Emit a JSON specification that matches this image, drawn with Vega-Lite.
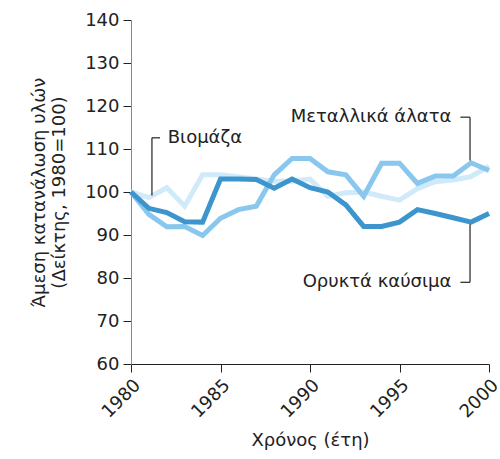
{
  "$schema": "https://vega.github.io/schema/vega-lite/v6.json",
  "width": 358,
  "height": 344,
  "autosize": {"type": "none"},
  "padding": {"left": 131, "top": 20, "right": 11, "bottom": 95},
  "background": "white",
  "config": {
    "view": {"stroke": null},
    "font": "DejaVu Sans",
    "axis": {"grid": false, "labelFont": "DejaVu Sans", "titleFont": "DejaVu Sans", "labelFontSize": 18, "titleFontSize": 18, "titleFontWeight": "normal", "labelColor": "#222", "titleColor": "#222", "tickColor": "#222", "tickSize": 8}
  },
  "datasets": {
    "series": [
      {"year": 1980, "s": "Biomass", "v": 100}, {"year": 1981, "s": "Biomass", "v": 98.7}, {"year": 1982, "s": "Biomass", "v": 101}, {"year": 1983, "s": "Biomass", "v": 96.7}, {"year": 1984, "s": "Biomass", "v": 104}, {"year": 1985, "s": "Biomass", "v": 104}, {"year": 1986, "s": "Biomass", "v": 103.5}, {"year": 1987, "s": "Biomass", "v": 103}, {"year": 1988, "s": "Biomass", "v": 102.5}, {"year": 1989, "s": "Biomass", "v": 102.5}, {"year": 1990, "s": "Biomass", "v": 103}, {"year": 1991, "s": "Biomass", "v": 99}, {"year": 1992, "s": "Biomass", "v": 99.8}, {"year": 1993, "s": "Biomass", "v": 100}, {"year": 1994, "s": "Biomass", "v": 99}, {"year": 1995, "s": "Biomass", "v": 98.1}, {"year": 1996, "s": "Biomass", "v": 100.8}, {"year": 1997, "s": "Biomass", "v": 102.4}, {"year": 1998, "s": "Biomass", "v": 102.8}, {"year": 1999, "s": "Biomass", "v": 103.6}, {"year": 2000, "s": "Biomass", "v": 106},
      {"year": 1980, "s": "Metals", "v": 100}, {"year": 1981, "s": "Metals", "v": 94.8}, {"year": 1982, "s": "Metals", "v": 91.9}, {"year": 1983, "s": "Metals", "v": 92}, {"year": 1984, "s": "Metals", "v": 89.9}, {"year": 1985, "s": "Metals", "v": 93.9}, {"year": 1986, "s": "Metals", "v": 95.9}, {"year": 1987, "s": "Metals", "v": 96.7}, {"year": 1988, "s": "Metals", "v": 104}, {"year": 1989, "s": "Metals", "v": 107.8}, {"year": 1990, "s": "Metals", "v": 107.8}, {"year": 1991, "s": "Metals", "v": 104.7}, {"year": 1992, "s": "Metals", "v": 104}, {"year": 1993, "s": "Metals", "v": 99}, {"year": 1994, "s": "Metals", "v": 106.7}, {"year": 1995, "s": "Metals", "v": 106.7}, {"year": 1996, "s": "Metals", "v": 102}, {"year": 1997, "s": "Metals", "v": 103.7}, {"year": 1998, "s": "Metals", "v": 103.7}, {"year": 1999, "s": "Metals", "v": 106.8}, {"year": 2000, "s": "Metals", "v": 105},
      {"year": 1980, "s": "Fossil", "v": 100}, {"year": 1981, "s": "Fossil", "v": 96.2}, {"year": 1982, "s": "Fossil", "v": 95.2}, {"year": 1983, "s": "Fossil", "v": 93.1}, {"year": 1984, "s": "Fossil", "v": 93}, {"year": 1985, "s": "Fossil", "v": 103}, {"year": 1986, "s": "Fossil", "v": 103}, {"year": 1987, "s": "Fossil", "v": 102.9}, {"year": 1988, "s": "Fossil", "v": 100.9}, {"year": 1989, "s": "Fossil", "v": 103}, {"year": 1990, "s": "Fossil", "v": 101}, {"year": 1991, "s": "Fossil", "v": 100}, {"year": 1992, "s": "Fossil", "v": 97}, {"year": 1993, "s": "Fossil", "v": 92}, {"year": 1994, "s": "Fossil", "v": 92}, {"year": 1995, "s": "Fossil", "v": 93}, {"year": 1996, "s": "Fossil", "v": 95.9}, {"year": 1997, "s": "Fossil", "v": 95}, {"year": 1998, "s": "Fossil", "v": 94}, {"year": 1999, "s": "Fossil", "v": 93}, {"year": 2000, "s": "Fossil", "v": 95}
    ],
    "leaders": [
      {"x": 1981.17, "x2": 1981.17, "y": 112.6, "y2": 99.2},
      {"x": 1981.17, "x2": 1981.62, "y": 112.6, "y2": 112.6},
      {"x": 1998.4, "x2": 1998.94, "y": 117.4, "y2": 117.4},
      {"x": 1998.94, "x2": 1998.94, "y": 117.4, "y2": 107.3},
      {"x": 1998.4, "x2": 1998.94, "y": 79, "y2": 79},
      {"x": 1998.94, "x2": 1998.94, "y": 79, "y2": 92.5}
    ],
    "labelsLeft": [
      {"x": 1982.05, "y": 112.6, "t": "Βιομάζα"}
    ],
    "labelsRight": [
      {"x": 1997.9, "y": 117.4, "t": "Μεταλλικά άλατα"},
      {"x": 1997.9, "y": 79, "t": "Ορυκτά καύσιμα"}
    ]
  },
  "layer": [
    {
      "data": {"name": "series"},
      "transform": [{"filter": "datum.s === 'Biomass'"}],
      "mark": {"type": "line", "strokeWidth": 5, "color": "#d0eafa", "strokeJoin": "miter"},
      "encoding": {
        "x": {"field": "year", "type": "quantitative", "scale": {"domain": [1980, 2000]},
          "axis": {"values": [1980, 1985, 1990, 1995, 2000], "format": "d", "labelAngle": -45, "title": "Χρόνος (έτη)", "titlePadding": 10, "domainColor": "#222", "labelPadding": 4}},
        "y": {"field": "v", "type": "quantitative", "scale": {"domain": [60, 140]},
          "axis": {"values": [60, 70, 80, 90, 100, 110, 120, 130, 140], "title": ["Άμεση κατανάλωση υλών", "(Δείκτης, 1980=100)"], "domainColor": "#888", "titlePadding": 16, "labelPadding": 4}}
      }
    },
    {
      "data": {"name": "series"},
      "transform": [{"filter": "datum.s === 'Metals'"}],
      "mark": {"type": "line", "strokeWidth": 5, "color": "#89c7ee", "strokeJoin": "miter"},
      "encoding": {
        "x": {"field": "year", "type": "quantitative"},
        "y": {"field": "v", "type": "quantitative"}
      }
    },
    {
      "data": {"name": "series"},
      "transform": [{"filter": "datum.s === 'Fossil'"}],
      "mark": {"type": "line", "strokeWidth": 5, "color": "#3d95cd", "strokeJoin": "miter"},
      "encoding": {
        "x": {"field": "year", "type": "quantitative"},
        "y": {"field": "v", "type": "quantitative"}
      }
    },
    {
      "data": {"name": "leaders"},
      "mark": {"type": "rule", "color": "#222", "strokeWidth": 1.2},
      "encoding": {
        "x": {"field": "x", "type": "quantitative"},
        "x2": {"field": "x2"},
        "y": {"field": "y", "type": "quantitative"},
        "y2": {"field": "y2"}
      }
    },
    {
      "data": {"name": "labelsLeft"},
      "mark": {"type": "text", "fontSize": 18, "color": "#222", "baseline": "middle", "align": "left"},
      "encoding": {
        "x": {"field": "x", "type": "quantitative"},
        "y": {"field": "y", "type": "quantitative"},
        "text": {"field": "t"}
      }
    },
    {
      "data": {"name": "labelsRight"},
      "mark": {"type": "text", "fontSize": 18, "color": "#222", "baseline": "middle", "align": "right"},
      "encoding": {
        "x": {"field": "x", "type": "quantitative"},
        "y": {"field": "y", "type": "quantitative"},
        "text": {"field": "t"}
      }
    }
  ]
}
